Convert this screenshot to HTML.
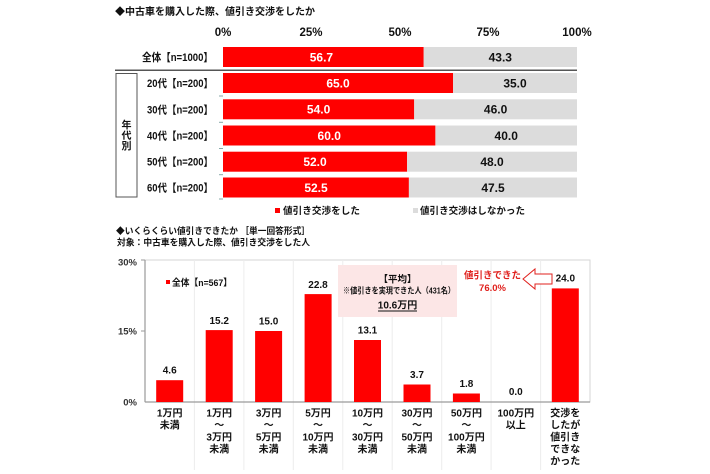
<!DOCTYPE html>
<html><head><meta charset="utf-8">
<style>
html,body{margin:0;padding:0;background:#fff;}
svg{display:block;}
text{font-family:"Liberation Sans","Noto Sans CJK JP",sans-serif;font-weight:bold;}
</style></head>
<body>
<svg width="710" height="474" viewBox="0 0 710 474" xmlns="http://www.w3.org/2000/svg">
<!-- Top title -->
<text x="115" y="15" font-size="10" fill="#111" textLength="200" lengthAdjust="spacingAndGlyphs">◆中古車を購入した際、値引き交渉をしたか</text>
<!-- axis labels -->
<g font-size="11.5" fill="#111" text-anchor="middle">
<text x="223" y="36">0%</text>
<text x="311" y="36">25%</text>
<text x="400" y="36">50%</text>
<text x="488" y="36">75%</text>
<text x="577" y="36">100%</text>
</g>
<!-- bars -->
<g>
<rect x="223" y="47" width="200.7" height="20" fill="#ff0000"/>
<rect x="423.7" y="47" width="153.3" height="20" fill="#dcdcdc"/>
<rect x="223" y="73" width="230.1" height="20" fill="#ff0000"/>
<rect x="453.1" y="73" width="123.9" height="20" fill="#dcdcdc"/>
<rect x="223" y="99.3" width="191.2" height="20" fill="#ff0000"/>
<rect x="414.2" y="99.3" width="162.8" height="20" fill="#dcdcdc"/>
<rect x="223" y="125.5" width="212.4" height="20" fill="#ff0000"/>
<rect x="435.4" y="125.5" width="141.6" height="20" fill="#dcdcdc"/>
<rect x="223" y="151.7" width="184.1" height="20" fill="#ff0000"/>
<rect x="407.1" y="151.7" width="169.9" height="20" fill="#dcdcdc"/>
<rect x="223" y="177.5" width="185.9" height="20" fill="#ff0000"/>
<rect x="408.9" y="177.5" width="168.1" height="20" fill="#dcdcdc"/>
</g>
<!-- separator -->
<line x1="115" y1="70.3" x2="577" y2="70.3" stroke="#555" stroke-width="1.5"/>
<!-- small ticks -->
<g stroke="#8aa" stroke-width="1">
<line x1="219" y1="96" x2="223" y2="96"/>
<line x1="219" y1="122.3" x2="223" y2="122.3"/>
<line x1="219" y1="148.5" x2="223" y2="148.5"/>
<line x1="219" y1="174.7" x2="223" y2="174.7"/>
<line x1="219" y1="199" x2="223" y2="199"/>
</g>
<!-- values -->
<g font-size="12" text-anchor="middle">
<text x="321.4" y="61.3" fill="#fff">56.7</text>
<text x="500.3" y="61.3" fill="#111">43.3</text>
<text x="338" y="87.3" fill="#fff">65.0</text>
<text x="515" y="87.3" fill="#111">35.0</text>
<text x="318.6" y="113.6" fill="#fff">54.0</text>
<text x="495.6" y="113.6" fill="#111">46.0</text>
<text x="329.2" y="139.8" fill="#fff">60.0</text>
<text x="506.2" y="139.8" fill="#111">40.0</text>
<text x="315" y="166" fill="#fff">52.0</text>
<text x="492" y="166" fill="#111">48.0</text>
<text x="316" y="191.8" fill="#fff">52.5</text>
<text x="493" y="191.8" fill="#111">47.5</text>
</g>
<!-- category labels -->
<g font-size="11" fill="#111" text-anchor="end">
<text x="213" y="61" textLength="71" lengthAdjust="spacingAndGlyphs">全体【n=1000】</text>
<text x="213" y="87" textLength="66" lengthAdjust="spacingAndGlyphs">20代【n=200】</text>
<text x="213" y="113.3" textLength="66" lengthAdjust="spacingAndGlyphs">30代【n=200】</text>
<text x="213" y="139.5" textLength="66" lengthAdjust="spacingAndGlyphs">40代【n=200】</text>
<text x="213" y="165.7" textLength="66" lengthAdjust="spacingAndGlyphs">50代【n=200】</text>
<text x="213" y="191.5" textLength="66" lengthAdjust="spacingAndGlyphs">60代【n=200】</text>
</g>
<!-- group box -->
<rect x="116" y="73.5" width="21" height="123.5" fill="none" stroke="#555" stroke-width="1"/>
<g font-size="10" fill="#111" text-anchor="middle">
<text x="126.5" y="128.5">年</text>
<text x="126.5" y="139">代</text>
<text x="126.5" y="149.5">別</text>
</g>
<!-- top legend -->
<rect x="275" y="208" width="5" height="5" fill="#ff0000"/>
<text x="283" y="214" font-size="9.6" fill="#111" textLength="77" lengthAdjust="spacingAndGlyphs">値引き交渉をした</text>
<rect x="413" y="208" width="5" height="5" fill="#dcdcdc"/>
<text x="420" y="214" font-size="9.6" fill="#111" textLength="105" lengthAdjust="spacingAndGlyphs">値引き交渉はしなかった</text>

<!-- Lower titles -->
<text x="116" y="234" font-size="9" fill="#111" textLength="194" lengthAdjust="spacingAndGlyphs">◆いくらくらい値引きできたか ［単一回答形式］</text>
<text x="117" y="245.5" font-size="9" fill="#111" textLength="193" lengthAdjust="spacingAndGlyphs">対象：中古車を購入した際、値引き交渉をした人</text>

<!-- plot area -->
<rect x="145" y="260" width="445" height="142" fill="none" stroke="#d6d6d6" stroke-width="1"/>
<g stroke="#ececec" stroke-width="1">
<line x1="194.4" y1="260" x2="194.4" y2="470"/>
<line x1="243.9" y1="260" x2="243.9" y2="470"/>
<line x1="293.3" y1="260" x2="293.3" y2="470"/>
<line x1="342.8" y1="260" x2="342.8" y2="470"/>
<line x1="392.2" y1="260" x2="392.2" y2="470"/>
<line x1="441.7" y1="260" x2="441.7" y2="470"/>
<line x1="491.1" y1="260" x2="491.1" y2="470"/>
<line x1="540.6" y1="260" x2="540.6" y2="470"/>
</g>
<line x1="145" y1="260" x2="145" y2="402" stroke="#9a9a9a" stroke-width="1.2"/>
<line x1="145" y1="402" x2="590" y2="402" stroke="#9a9a9a" stroke-width="1.2"/>
<line x1="141" y1="331" x2="145" y2="331" stroke="#9a9a9a" stroke-width="1"/>
<line x1="141" y1="260" x2="145" y2="260" stroke="#9a9a9a" stroke-width="1"/>
<g font-size="9.5" fill="#333" text-anchor="end">
<text x="137" y="265.5">30%</text>
<text x="137" y="334.5">15%</text>
<text x="137" y="405.5">0%</text>
</g>

<!-- average box -->
<rect x="338" y="265" width="119" height="52" fill="#fce6e6"/>
<g text-anchor="middle" fill="#111">
<text x="397.5" y="282.5" font-size="9.5">【平均】</text>
<text x="399" y="293.5" font-size="8.3" textLength="112" lengthAdjust="spacingAndGlyphs">※値引きを実現できた人（431名）</text>
<text x="397.5" y="308.5" font-size="10">10.6万円</text>
</g>
<line x1="378" y1="311" x2="417" y2="311" stroke="#111" stroke-width="1"/>

<!-- bars -->
<g fill="#ff0000">
<rect x="156.2" y="380.2" width="27" height="21.8"/>
<rect x="205.7" y="330.1" width="27" height="71.9"/>
<rect x="255.1" y="331" width="27" height="71"/>
<rect x="304.6" y="294.1" width="27" height="107.9"/>
<rect x="354" y="340" width="27" height="62"/>
<rect x="403.5" y="384.5" width="27" height="17.5"/>
<rect x="452.9" y="393.5" width="27" height="8.5"/>
<rect x="551.8" y="288.4" width="27" height="113.6"/>
</g>
<g font-size="10" fill="#111" text-anchor="middle">
<text x="169.7" y="373.5">4.6</text>
<text x="219.2" y="324">15.2</text>
<text x="268.6" y="324.5">15.0</text>
<text x="318" y="288">22.8</text>
<text x="367.5" y="333.5">13.1</text>
<text x="417" y="378">3.7</text>
<text x="466.4" y="387">1.8</text>
<text x="515.8" y="395">0.0</text>
<text x="565.3" y="281.5">24.0</text>
</g>

<!-- legend lower -->
<rect x="166" y="280" width="4" height="4" fill="#ff0000"/>
<text x="172" y="286" font-size="9.5" fill="#111" textLength="60" lengthAdjust="spacingAndGlyphs">全体【n=567】</text>

<!-- 値引きできた -->
<g text-anchor="middle" fill="#e0201c">
<text x="492.5" y="278.5" font-size="9.5">値引きできた</text>
<text x="492.5" y="291" font-size="9.5">76.0%</text>
</g>
<path d="M523,279 L535,269 L535,274 L552,274 L552,284 L535,284 L535,289 Z" fill="#fff" stroke="#e0201c" stroke-width="1"/>

<!-- category labels -->
<g font-size="10" fill="#111" text-anchor="middle">
<text x="169.7" y="416.5">1万円</text>
<text x="169.7" y="428.5">未満</text>

<text x="219.2" y="416.5">1万円</text>
<text x="219.2" y="428.5">～</text>
<text x="219.2" y="440.5">3万円</text>
<text x="219.2" y="452.5">未満</text>

<text x="268.6" y="416.5">3万円</text>
<text x="268.6" y="428.5">～</text>
<text x="268.6" y="440.5">5万円</text>
<text x="268.6" y="452.5">未満</text>

<text x="318" y="416.5">5万円</text>
<text x="318" y="428.5">～</text>
<text x="318" y="440.5">10万円</text>
<text x="318" y="452.5">未満</text>

<text x="367.5" y="416.5">10万円</text>
<text x="367.5" y="428.5">～</text>
<text x="367.5" y="440.5">30万円</text>
<text x="367.5" y="452.5">未満</text>

<text x="417" y="416.5">30万円</text>
<text x="417" y="428.5">～</text>
<text x="417" y="440.5">50万円</text>
<text x="417" y="452.5">未満</text>

<text x="466.4" y="416.5">50万円</text>
<text x="466.4" y="428.5">～</text>
<text x="466.4" y="440.5">100万円</text>
<text x="466.4" y="452.5">未満</text>

<text x="515.8" y="416.5">100万円</text>
<text x="515.8" y="428.5">以上</text>

<text x="565.3" y="416.5">交渉を</text>
<text x="565.3" y="428.5">したが</text>
<text x="565.3" y="440.5">値引き</text>
<text x="565.3" y="452.5">できな</text>
<text x="565.3" y="464.5">かった</text>
</g>
</svg>
</body></html>
